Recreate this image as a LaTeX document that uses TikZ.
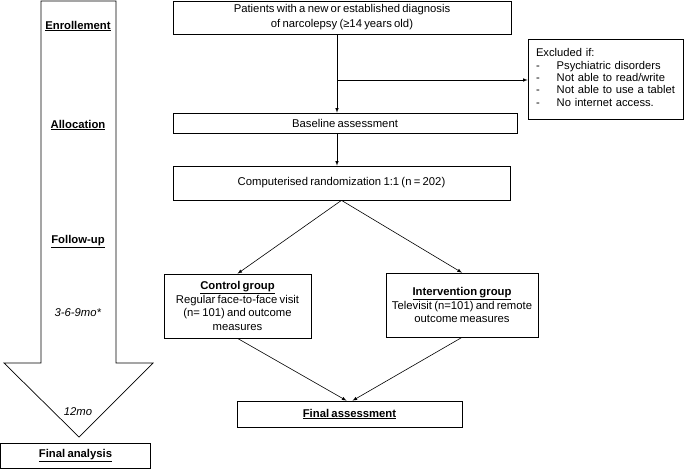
\documentclass[tikz,border=0pt]{standalone}
\usepackage{fontspec}
\setmainfont{Liberation Sans}
\newcommand{\boxfont}{\fontsize{11.3}{13.5}\selectfont\spaceskip=0.2em plus 0.05em minus 0.02em\relax}
\tikzset{
	box/.style={draw, line width=0.7pt, align=center, inner sep=2pt, font=\boxfont},
	stage/.style={font=\boxfont},
	link/.style={line width=0.6pt},
}
\newcommand{\ulbf}[1]{\underline{\textbf{#1}}}
\begin{document}
\begin{tikzpicture}[x=1pt,y=-1pt][>=latex]
	\useasboundingbox (0,0) rectangle (685,469);
	% big timeline arrow on the left
	\coordinate (ShaftTL) at (41,1);
	\coordinate (ShaftTR) at (116,1);
	\coordinate (ShaftBR) at (116,363);
	\coordinate (HeadR)   at (153,363);
	\coordinate (HeadTip) at (79,437);
	\coordinate (HeadL)   at (4,363);
	\coordinate (ShaftBL) at (41,363);
	\draw [line width=0.7pt] (ShaftTL) -- (ShaftTR) -- (ShaftBR) -- (HeadR) -- (HeadTip) -- (HeadL) -- (ShaftBL) -- cycle;
	
	\node[stage] (Enroll) at (78,26) {\ulbf{Enrollement}};
	\node[stage] (Alloc) at (78,125) {\ulbf{Allocation}};
	\node[stage] (Follow) at (78,242) {\ulbf{Follow-up}};
	\node[stage] (Months) at (78,313) {\textit{3-6-9mo*}};
	\node[stage] (Year) at (78,412) {\textit{12mo}};
	\node[box, minimum width=150, minimum height=25] (FinalAnalysis) at (75.5,456) {\ulbf{Final\ analysis}};
	
	% flow chart
	\node[box, minimum width=338, minimum height=33, font={\boxfont\baselineskip=15pt}] (Patients) at (342,17.5) {Patients with a new or established diagnosis\\of narcolepsy (≥14 years old)};
	\node[box, minimum width=344, minimum height=20] (Baseline) at (345,123) {Baseline assessment};
	\node[box, minimum width=337, minimum height=34] (Random) at (341.5,183) {Computerised randomization 1:1 (n = 202)};
	\node[draw, line width=0.7pt, align=left, text width=139, inner xsep=8, minimum height=80, font={\fontsize{11.2}{12.3}\selectfont\spaceskip=0.2em\relax}] (Excluded) at (605.5,79) {%
		\begin{tabular}{@{}l@{\hspace{17pt}}l@{}}
			\multicolumn{2}{@{}l@{}}{Excluded if:}\\
			- & Psychiatric disorders\\
			- & Not able to read/write\\
			- & Not able to use a tablet\\
			- & No internet access.
		\end{tabular}};
	\node[box, minimum width=147, minimum height=64] (Control) at (237.5,306) {\ulbf{Control group}\\Regular face-to-face visit\\(n= 101) and outcome\\measures};
	\node[box, minimum width=152, minimum height=64] (Intervention) at (462,305) {\ulbf{Intervention group}\\Televisit (n=101) and remote\\outcome measures};
	\node[box, minimum width=225, minimum height=26] (FinalAssess) at (349.5,414) {\ulbf{Final\ assessment}};
	
	\coordinate (Branch) at (337,80);
	\draw [link] (Patients.south -| Branch) -- (Branch);
	\draw [link,-latex] (Branch) -- (Baseline.north -| Branch);
	\draw [link,-latex] (Branch) -- (Excluded.west |- Branch);
	\draw [link,-latex] (Baseline.south -| Branch) -- (Random.north -| Branch);
	\draw [link,-latex] (Random.south) -- (Control.north);
	\draw [link,-latex] (Random.south) -- (Intervention.north);
	\draw [link,-latex] (Control.south) -- ([xshift=-3]FinalAssess.north);
	\draw [link,-latex] (Intervention.south) -- ([xshift=3]FinalAssess.north);
\end{tikzpicture}
\end{document}
